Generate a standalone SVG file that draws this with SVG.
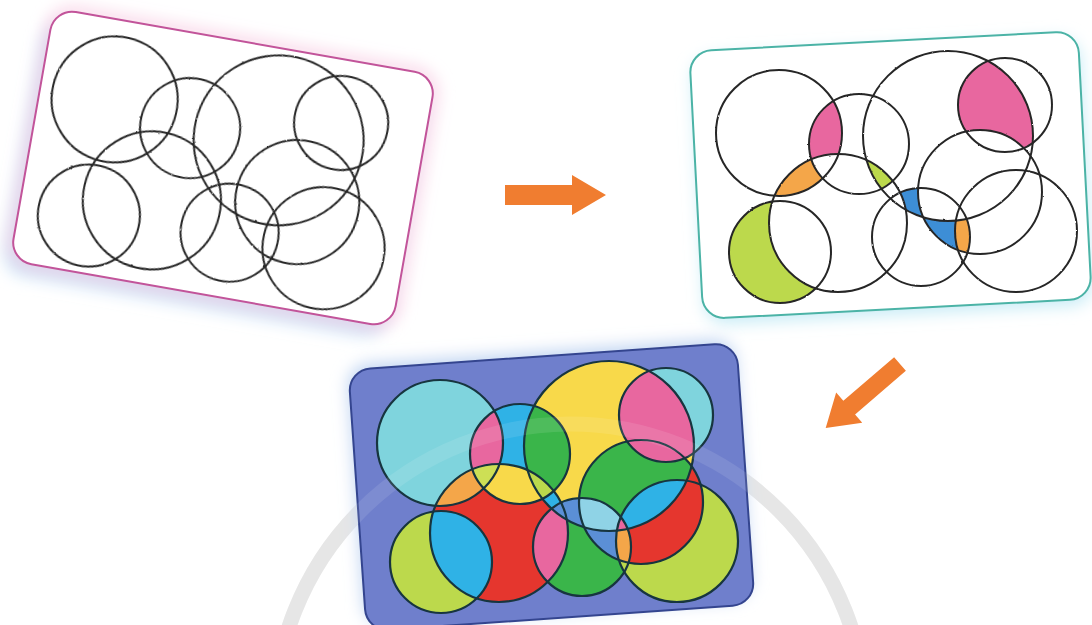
<svg xmlns="http://www.w3.org/2000/svg" width="1092" height="625" viewBox="0 0 1092 625">
<style>
.ring{fill:none;stroke:#262626;stroke-width:2}
.ring3{fill:none;stroke:#17353f;stroke-width:2.2}
.cy{fill:#7fd4dd}.bl{fill:#2fb2e6}.pk{fill:#e8679f}.or{fill:#f4a649}.li{fill:#bcd94c}.ye{fill:#f8d94a}.gr{fill:#3ab54a}.rd{fill:#e5362e}.mb{fill:#5b8fd6}.lc{fill:#8fd3e6}.yl{fill:#cddf55}.wh{fill:#ffffff}.b2{fill:#3d8ed6}
.arrow{fill:#f07d30}
</style>
<defs>
  <g id="rings">
    <circle id="r1" cx="-124" cy="-51" r="63"/>
    <circle id="r2" cx="-44" cy="-40" r="50"/>
    <circle id="r3" cx="45" cy="-48" r="85"/>
    <circle id="r4" cx="102" cy="-79" r="47"/>
    <circle id="r5" cx="-65" cy="39" r="69"/>
    <circle id="r6" cx="-123" cy="68" r="51"/>
    <circle id="r7" cx="18" cy="53" r="49"/>
    <circle id="r8" cx="77" cy="8" r="62"/>
    <circle id="r9" cx="113" cy="47" r="61"/>
  </g>
  <clipPath id="k1"><circle cx="-124" cy="-51" r="63"/></clipPath>
  <clipPath id="k2"><circle cx="-44" cy="-40" r="50"/></clipPath>
  <clipPath id="k3"><circle cx="45" cy="-48" r="85"/></clipPath>
  <clipPath id="k4"><circle cx="102" cy="-79" r="47"/></clipPath>
  <clipPath id="k5"><circle cx="-65" cy="39" r="69"/></clipPath>
  <clipPath id="k7"><circle cx="18" cy="53" r="49"/></clipPath>
  <clipPath id="k8"><circle cx="77" cy="8" r="62"/></clipPath>
  <filter id="rough" x="-10%" y="-10%" width="120%" height="120%">
    <feTurbulence type="fractalNoise" baseFrequency="0.35" numOctaves="1" seed="3" result="n"/>
    <feDisplacementMap in="SourceGraphic" in2="n" scale="2" xChannelSelector="R" yChannelSelector="G"/>
  </filter>
  <filter id="blur" x="-20%" y="-20%" width="140%" height="140%">
    <feGaussianBlur stdDeviation="8"/>
  </filter>
</defs>

<!-- faint watermark ring (behind) -->
<circle cx="570" cy="720" r="296" fill="none" stroke="#e4e4e4" stroke-width="15"/>

<!-- Panel 1 -->
<g id="panel1">
  <rect x="-194" y="-128" width="388" height="256" rx="22" fill="#cfe6f8" filter="url(#blur)" transform="translate(214,180) rotate(10)"/>
  <rect x="-194" y="-128" width="388" height="256" rx="22" fill="none" stroke="#f6c3de" stroke-width="8" filter="url(#blur)" transform="translate(223,168) rotate(10)"/>
  <rect x="-194" y="-128" width="388" height="256" rx="22" fill="#ffffff" stroke="#c2549a" stroke-width="2" transform="translate(223,168) rotate(10)"/>
  <g transform="translate(224,177) rotate(13)">
    <use href="#rings" class="ring" filter="url(#rough)"/>
  </g>
</g>

<!-- Panel 2 -->
<g id="panel2">
  <rect x="-195" y="-134" width="389" height="268" rx="22" fill="#c9ecf6" filter="url(#blur)" transform="translate(893,181) rotate(-3)"/>
  <rect x="-195" y="-134" width="389" height="268" rx="22" fill="#ffffff" stroke="#4bb3a6" stroke-width="2" transform="translate(891,175) rotate(-3)"/>
  <g transform="translate(903,184)">
    <g clip-path="url(#k1)"><use href="#r5" class="or"/></g>
    <g clip-path="url(#k1)"><use href="#r2" class="pk"/></g>
    <g clip-path="url(#k1)"><g clip-path="url(#k2)"><use href="#r5" class="wh"/></g></g>
    <use href="#r6" class="li"/>
    <g clip-path="url(#k5)"><use href="#r6" class="wh"/></g>
    <g clip-path="url(#k2)"><g clip-path="url(#k3)"><use href="#r5" class="li"/></g></g>
    <g clip-path="url(#k3)"><use href="#r4" class="pk"/></g>
    <g clip-path="url(#k3)"><g clip-path="url(#k4)"><use href="#r8" class="wh"/></g></g>
    <g clip-path="url(#k3)"><use href="#r7" class="b2"/></g>
    <g clip-path="url(#k7)"><use href="#r8" class="b2"/></g>
    <g clip-path="url(#k3)"><g clip-path="url(#k7)"><use href="#r8" class="wh"/></g></g>
    <g clip-path="url(#k5)"><use href="#r7" class="wh"/></g>
    <g clip-path="url(#k7)"><use href="#r9" class="wh"/></g>
    <g clip-path="url(#k7)"><g clip-path="url(#k8)"><use href="#r9" class="or"/></g></g>
    <g clip-path="url(#k3)"><g clip-path="url(#k7)"><g clip-path="url(#k8)"><use href="#r9" class="wh"/></g></g></g>
    <use href="#rings" class="ring" filter="url(#rough)"/>
  </g>
</g>

<!-- Panel 3 -->
<g id="panel3">
  <rect x="-195" y="-131" width="389" height="262" rx="22" fill="#c2d6f2" filter="url(#blur)" transform="translate(550,482) rotate(-4)"/>
  <rect x="-195" y="-131" width="389" height="262" rx="22" fill="#6f7fcc" stroke="#34458f" stroke-width="2" transform="translate(552,487) rotate(-4)"/>
  <g transform="translate(564,494)">
    <use href="#r3" class="ye"/>
    <use href="#r4" class="cy"/>
    <use href="#r1" class="cy"/>
    <use href="#r2" class="bl"/>
    <use href="#r5" class="rd"/>
    <use href="#r6" class="li"/>
    <use href="#r7" class="gr"/>
    <use href="#r8" class="rd"/>
    <use href="#r9" class="li"/>
    <g clip-path="url(#k1)"><use href="#r2" class="pk"/></g>
    <g clip-path="url(#k1)"><use href="#r5" class="or"/></g>
    <g clip-path="url(#k3)"><use href="#r5" class="bl"/></g>
    <g clip-path="url(#k5)"><use href="#r7" class="pk"/></g>
    <g clip-path="url(#k2)"><use href="#r3" class="gr"/></g>
    <g clip-path="url(#k2)"><use href="#r5" class="ye"/></g>
    <g clip-path="url(#k2)"><g clip-path="url(#k3)"><use href="#r5" class="li"/></g></g>
    <g clip-path="url(#k1)"><g clip-path="url(#k2)"><use href="#r5" class="yl"/></g></g>
    <g clip-path="url(#k5)"><use href="#r6" class="bl"/></g>
    <g clip-path="url(#k3)"><use href="#r8" class="gr"/></g>
    <g clip-path="url(#k3)"><use href="#r4" class="pk"/></g>
    <g clip-path="url(#k3)"><use href="#r7" class="mb"/></g>
    <g clip-path="url(#k7)"><use href="#r8" class="mb"/></g>
    <g clip-path="url(#k3)"><g clip-path="url(#k7)"><use href="#r8" class="lc"/></g></g>
    <g clip-path="url(#k8)"><use href="#r9" class="rd"/></g>
    <g clip-path="url(#k3)"><g clip-path="url(#k8)"><use href="#r9" class="bl"/></g></g>
    <g clip-path="url(#k7)"><g clip-path="url(#k8)"><use href="#r9" class="or"/></g></g>
    <g clip-path="url(#k3)"><g clip-path="url(#k7)"><g clip-path="url(#k8)"><use href="#r9" class="pk"/></g></g></g>
    <use href="#rings" class="ring3"/>
  </g>
  <!-- very faint watermark over the panel -->
  <circle cx="570" cy="720" r="296" fill="none" stroke="#ffffff" stroke-width="15" opacity="0.1"/>
</g>

<!-- Connectors (arrows) -->
<g id="connectors">
  <polygon class="arrow" points="505,185 572,185 572,175 606,195 572,215 572,205 505,205"/>
  <polygon class="arrow" points="0,-9 67,-9 67,-20 98,0 67,20 67,9 0,9" transform="translate(900,364) rotate(139.3)"/>
</g>
</svg>
